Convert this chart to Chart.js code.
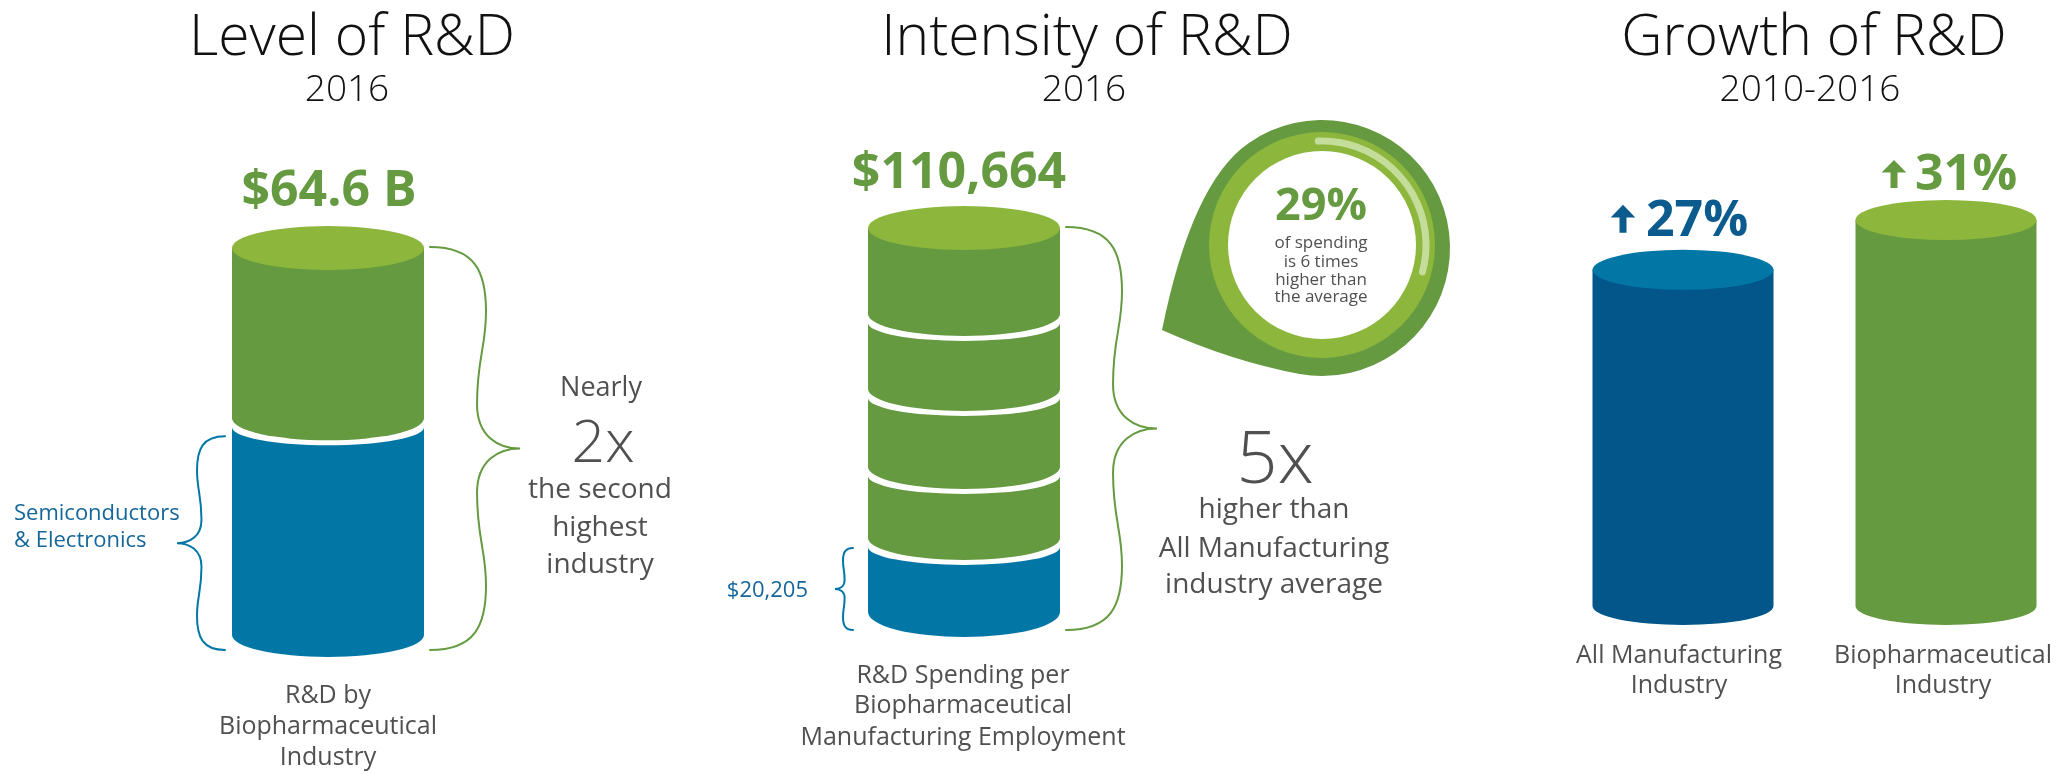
<!DOCTYPE html>
<html><head><meta charset="utf-8">
<script src="https://cdn.jsdelivr.net/npm/chart.js@4.4.1/dist/chart.umd.min.js"></script>
<style>
html,body{margin:0;padding:0;background:#fff;}
#stage{position:relative;width:2062px;height:773px;overflow:hidden;font-family:"Open Sans",sans-serif;}
canvas{position:absolute;left:0;top:0;}
.t{position:absolute;white-space:nowrap;}
</style></head><body>
<div id="stage">
<canvas id="c1" width="2062" height="773"></canvas>
<canvas id="c2" width="2062" height="773"></canvas>
<canvas id="c3" width="2062" height="773"></canvas>
</div>
<script>
// ---------- DATA ----------
const levelCategories = [['R&D by', 'Biopharmaceutical', 'Industry']];
const levelBiopharma = [64.6];          // $ billions, 2016
const levelSemiconductors = [35.5];     // $ billions, second highest industry (estimated)
const intensityCategories = [['R&D Spending per', 'Biopharmaceutical', 'Manufacturing Employment']];
const intensityAllManufacturing = [20205];                 // $ per employee
const intensityBiopharmaExtra = [20455, 22472, 21608, 25924]; // stacked steps up to $110,664
const growthCategories = [['All Manufacturing', 'Industry'], ['Biopharmaceutical', 'Industry']];
const growthValues = [27, 31];          // % growth 2010-2016

// ---------- STYLE ----------
const GREEN = '#659a41', LIGHT_GREEN = '#8db73c', BLUE = '#0277a6', DARK_BLUE = '#02568a';
const TEXT_BLUE = '#14669b', GRAY = '#505050', PALE = '#c4dd9b';
const W = 2062, H = 773;

function segPath(ctx, cx, w, topY, topArc, botY, botArc) {
  const l = cx - w / 2, r = cx + w / 2, rx = w / 2;
  ctx.beginPath();
  ctx.moveTo(l, topY);
  if (topArc) ctx.ellipse(cx, topY, rx, topArc, 0, Math.PI, 0, true);
  else ctx.lineTo(r, topY);
  ctx.lineTo(r, botY);
  ctx.ellipse(cx, botY, rx, botArc, 0, 0, Math.PI, false);
  ctx.closePath();
}
function topEllipse(ctx, cx, w, y, ry, color) {
  ctx.beginPath();
  ctx.ellipse(cx, y, w / 2, ry, 0, 0, Math.PI * 2);
  ctx.fillStyle = color; ctx.fill();
}
function brace(ctx, x0, y0, y1, xs, xt, color) {
  const h = (y1 - y0) / 2, ym = y0 + h;
  const d = 0.16 * (xs - x0);
  const cx = xt - 0.5 * (xt - xs + d);
  ctx.beginPath();
  ctx.moveTo(x0, y0);
  ctx.bezierCurveTo(x0 + 0.8 * (xs - x0), y0, xs, y0 + 0.12 * h, xs, y0 + 0.32 * h);
  ctx.bezierCurveTo(xs, y0 + 0.5 * h, xs - d, y0 + 0.55 * h, xs - d, ym - 0.22 * h);
  ctx.bezierCurveTo(xs - d, ym - 0.06 * h, cx, ym, xt, ym);
  ctx.bezierCurveTo(cx, ym, xs - d, ym + 0.06 * h, xs - d, ym + 0.22 * h);
  ctx.bezierCurveTo(xs - d, y1 - 0.55 * h, xs, y1 - 0.5 * h, xs, y1 - 0.32 * h);
  ctx.bezierCurveTo(xs, y1 - 0.12 * h, x0 + 0.8 * (xs - x0), y1, x0, y1);
  ctx.strokeStyle = color; ctx.lineWidth = 2; ctx.lineCap = 'round'; ctx.stroke();
}
function drawDrop(ctx) {
  const cx = 1322, cy = 248, R = 128;
  const a1 = -125 * Math.PI / 180, a2 = 100 * Math.PI / 180;
  const p1 = [cx + R * Math.cos(a1), cy + R * Math.sin(a1)];
  const tip = [1162, 330];
  ctx.beginPath();
  ctx.moveTo(tip[0], tip[1]);
  ctx.quadraticCurveTo(1192, 182, p1[0], p1[1]);
  ctx.arc(cx, cy, R, a1, a2, false);
  ctx.quadraticCurveTo(1231, 361, tip[0], tip[1]);
  ctx.fillStyle = GREEN; ctx.fill();
  ctx.beginPath(); ctx.arc(cx, 245, 113, 0, Math.PI * 2); ctx.fillStyle = LIGHT_GREEN; ctx.fill();
  ctx.beginPath(); ctx.arc(cx, 245, 94, 0, Math.PI * 2); ctx.fillStyle = '#fff'; ctx.fill();
  ctx.beginPath(); ctx.arc(cx, 245, 104, -92 * Math.PI / 180, 15 * Math.PI / 180, false);
  ctx.strokeStyle = PALE; ctx.lineWidth = 7; ctx.lineCap = 'round'; ctx.stroke();
}
function upArrow(ctx, cx, bottom, h, color) {
  const head = h * 0.45, hw = h * 0.44, sw = 3.5;
  ctx.beginPath();
  ctx.moveTo(cx, bottom - h);
  ctx.lineTo(cx + hw, bottom - h + head);
  ctx.lineTo(cx + sw, bottom - h + head);
  ctx.lineTo(cx + sw, bottom);
  ctx.lineTo(cx - sw, bottom);
  ctx.lineTo(cx - sw, bottom - h + head);
  ctx.lineTo(cx - hw, bottom - h + head);
  ctx.closePath();
  ctx.fillStyle = color; ctx.fill();
}

const GAP_TOP = 5, GAP_BOT = 4;

const levelPlugin = {
  id: 'levelCyl',
  afterDatasetsDraw(chart) {
    const ctx = chart.ctx;
    const tot = chart.getDatasetMeta(0).data[0];
    const sec = chart.getDatasetMeta(1).data[0];
    const cx = tot.x, w = tot.width, base = tot.base, top = tot.y, b = sec.y;
    ctx.save();
    segPath(ctx, cx, w, b + GAP_TOP, 18, base, 22); ctx.fillStyle = BLUE; ctx.fill();
    segPath(ctx, cx, w, top, null, b - GAP_BOT, 22); ctx.fillStyle = GREEN; ctx.fill();
    topEllipse(ctx, cx, w, top, 22, LIGHT_GREEN);
    const l = cx - w / 2, r = cx + w / 2;
    brace(ctx, r + 6, top - 1, base + 15, r + 62, r + 96, GREEN);
    brace(ctx, l - 7, b + 14, base + 15, l - 35, l - 55, BLUE);
    ctx.restore();
  }
};

const intensityPlugin = {
  id: 'intensityCyl',
  afterDatasetsDraw(chart) {
    const ctx = chart.ctx;
    const n = chart.data.datasets.length;
    ctx.save();
    let cx, w, top, base0, b0;
    for (let i = 0; i < n; i++) {
      const el = chart.getDatasetMeta(i).data[0];
      cx = el.x; w = el.width;
      const isBottom = i === 0, isTop = i === n - 1;
      const tY = isTop ? el.y : el.y + GAP_TOP;
      const bY = isBottom ? el.base : el.base - GAP_BOT;
      segPath(ctx, cx, w, tY, isTop ? null : 18, bY, isBottom ? 25 : 22);
      ctx.fillStyle = i === 0 ? BLUE : GREEN; ctx.fill();
      if (isTop) { topEllipse(ctx, cx, w, el.y, 22, LIGHT_GREEN); top = el.y; }
      if (isBottom) { base0 = el.base; b0 = el.y; }
    }
    const l = cx - w / 2, r = cx + w / 2;
    brace(ctx, r + 6, top - 1, base0 + 18, r + 62, r + 97, GREEN);
    brace(ctx, l - 15, b0 + 6, base0 + 18, l - 25, l - 33, BLUE);
    drawDrop(ctx);
    ctx.restore();
  }
};

const growthColors = ['#0b5b8f', GREEN];
const growthArrowDx = [-60, -52], growthArrowDy = [-37, -32];
const growthPlugin = {
  id: 'growthCyl',
  afterDatasetsDraw(chart) {
    const ctx = chart.ctx;
    const meta = chart.getDatasetMeta(0);
    const bodies = [DARK_BLUE, GREEN], tops = [BLUE, LIGHT_GREEN];
    ctx.save();
    meta.data.forEach((el, i) => {
      segPath(ctx, el.x, el.width, el.y, null, el.base, 19);
      ctx.fillStyle = bodies[i]; ctx.fill();
      topEllipse(ctx, el.x, el.width, el.y, 20, tops[i]);
      upArrow(ctx, el.x + growthArrowDx[i], el.y + growthArrowDy[i], 28, growthColors[i]);
    });
    ctx.restore();
  }
};

const baseOpts = (pad, yMax, xOffset) => ({
  responsive: false, animation: false, devicePixelRatio: 1,
  layout: { padding: pad },
  plugins: { legend: { display: false }, tooltip: { enabled: false }, title: { display: false } },
  scales: {
    x: { display: false, offset: xOffset, stacked: true },
    y: { display: false, min: 0, max: yMax, stacked: true }
  }
});
const clear = 'rgba(0,0,0,0)';

// Panel 1: level
new Chart(document.getElementById('c1'), {
  type: 'bar',
  data: {
    labels: levelCategories,
    datasets: [
      { label: 'Biopharmaceutical', data: levelBiopharma, backgroundColor: clear, grouped: false, categoryPercentage: 1, barPercentage: 1 },
      { label: 'Semiconductors & Electronics', data: levelSemiconductors, backgroundColor: clear, grouped: false, categoryPercentage: 1, barPercentage: 1 }
    ]
  },
  options: Object.assign(baseOpts({ left: 232, right: W - 424, top: 248, bottom: H - 635 }, levelBiopharma[0], true),
    { scales: { x: { display: false, offset: true }, y: { display: false, min: 0, max: levelBiopharma[0] } } }),
  plugins: [levelPlugin]
});

// Panel 2: intensity (stacked)
const intensityTotal = intensityAllManufacturing[0] + intensityBiopharmaExtra.reduce((a, b) => a + b, 0);
new Chart(document.getElementById('c2'), {
  type: 'bar',
  data: {
    labels: intensityCategories,
    datasets: [{ label: 'All Manufacturing', data: intensityAllManufacturing }]
      .concat(intensityBiopharmaExtra.map((v, i) => ({ label: 'Biopharma step ' + (i + 1), data: [v] })))
      .map(d => Object.assign(d, { backgroundColor: clear, categoryPercentage: 1, barPercentage: 1 }))
  },
  options: baseOpts({ left: 868, right: W - 1060, top: 228, bottom: H - 612 }, intensityTotal, true),
  plugins: [intensityPlugin]
});

// Panel 3: growth
new Chart(document.getElementById('c3'), {
  type: 'bar',
  data: {
    labels: growthCategories,
    datasets: [{ label: 'Growth 2010-2016', data: growthValues, backgroundColor: clear, barThickness: 181 }]
  },
  options: baseOpts({ left: 1683, right: W - 1946, top: 220, bottom: H - 606 }, Math.max(...growthValues), false),
  plugins: [growthPlugin]
});

// ---------- TEXT ----------
const stage = document.getElementById('stage');
function txt(s, x, baseline, size, o = {}) {
  const d = document.createElement('div');
  d.className = 't';
  d.textContent = s;
  d.style.fontFamily = o.family || '"Open Sans", sans-serif';
  d.style.fontWeight = o.weight || 400;
  d.style.fontSize = size + 'px';
  d.style.lineHeight = '1';
  d.style.color = o.color || GRAY;
  const m = document.createElement('span');
  m.style.cssText = 'display:inline-block;width:0;height:0;vertical-align:baseline;';
  d.appendChild(m);
  d.style.top = '0px';
  const align = o.align || 'center';
  if (align === 'center') { d.style.left = x + 'px'; d.style.transform = 'translateX(-50%)'; }
  else if (align === 'left') d.style.left = x + 'px';
  else d.style.right = (W - x) + 'px';
  stage.appendChild(d);
  const off = m.getBoundingClientRect().top - d.getBoundingClientRect().top;
  d.style.top = (baseline - off) + 'px';
}
const BLACK = '#111';
txt('Level of R&D', 352, 55, 57, { weight: 300, color: BLACK });
txt('Intensity of R&D', 1087, 55, 57, { weight: 300, color: BLACK });
txt('Growth of R&D', 1814, 55, 57, { weight: 300, color: BLACK });
txt('2016', 347, 101, 37, { weight: 300, color: BLACK });
txt('2016', 1084, 101, 37, { weight: 300, color: BLACK });
txt('2010-2016', 1810, 101, 37, { weight: 300, color: BLACK });

txt('$' + levelBiopharma[0].toFixed(1) + ' B', 329, 206, 50, { weight: 700, color: GREEN });
txt('$' + intensityTotal.toLocaleString('en-US'), 959, 188, 50, { weight: 700, color: GREEN });
txt('$' + intensityAllManufacturing[0].toLocaleString('en-US'), 808, 597, 22, { color: TEXT_BLUE, align: 'right' });
txt('Semiconductors', 14, 520, 22, { color: TEXT_BLUE, align: 'left' });
txt('& Electronics', 14, 547, 22, { color: TEXT_BLUE, align: 'left' });

txt('Nearly', 601, 396, 27);
txt('2x', 603, 462, 59, { weight: 300 });
txt('the second', 600, 498, 28);
txt('highest', 600, 536, 28);
txt('industry', 600, 573, 28);

txt('5x', 1275, 483, 72, { weight: 300 });
txt('higher than', 1274, 518, 28);
txt('All Manufacturing', 1274, 557, 28);
txt('industry average', 1274, 593, 28);

txt('29%', 1321, 220, 45, { weight: 700, color: GREEN });
txt('of spending', 1321, 248, 17);
txt('is 6 times', 1321, 267, 17);
txt('higher than', 1321, 285, 17);
txt('the average', 1321, 302, 17);

const catBase1 = [703, 734, 765];
levelCategories[0].forEach((s, i) => txt(s, 328, catBase1[i], 25));
const catBase2 = [683, 713, 745];
intensityCategories[0].forEach((s, i) => txt(s, 963, catBase2[i], 25));
const growthX = [1679, 1943];
growthCategories.forEach((lines, j) => lines.forEach((s, i) => txt(s, growthX[j], 663 + 30 * i, 25)));

const growthValX = [1646, 1915], growthValB = [236, 190];
growthValues.forEach((v, i) => {
  txt(v + '%', growthValX[i], growthValB[i], 50, { weight: 700, color: growthColors[i], align: 'left' });
});
</script>
</body></html>
